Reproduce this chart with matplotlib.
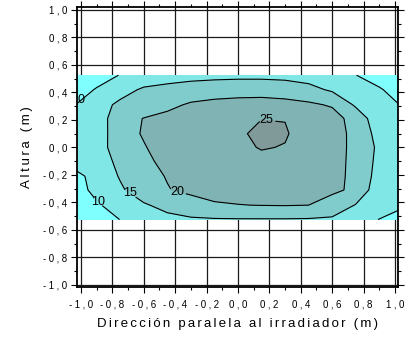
import numpy as np
import matplotlib
matplotlib.use('Agg')
import matplotlib.pyplot as plt
from matplotlib.ticker import FixedLocator, MultipleLocator, FuncFormatter

plt.rcParams['font.family'] = ['Liberation Sans', 'DejaVu Sans']

# posiciones de la malla (m)
x_pos = [-1.05, -0.9, -0.75, -0.6, -0.45, -0.3, -0.15, 0.0, 0.15, 0.3, 0.45, 0.6, 0.75, 0.9, 1.05]
y_pos = [-0.525, -0.42, -0.31, -0.21, -0.1, 0.0, 0.1, 0.21, 0.31, 0.42, 0.525]

# valores, una fila por altura (de abajo hacia arriba)
valores = [
    [6.5, 8.3, 10.05, 11.8, 13.2, 14.2, 14.6, 14.7, 14.7, 14.7, 14.6, 14.0, 12.0, 9.9, 9.3],
    [7.8, 9.6, 11.5, 14.3, 17.0, 19.0, 19.7, 19.9, 20.1, 20.2, 20.0, 19.3, 14.7, 12.2, 10.2],
    [8.3, 11.0, 14.1, 18.5, 19.9, 20.5, 21.0, 21.6, 22.0, 21.6, 20.9, 20.3, 19.7, 11.2, 10.9],
    [9.5, 10.5, 15.5, 19.35, 20.1, 20.9, 21.7, 22.5, 23.3, 22.5, 21.5, 20.5, 19.6, 12.7, 11.3],
    [10.5, 12.0, 16.5, 19.6, 20.5, 21.4, 22.4, 23.3, 24.2, 23.2, 21.9, 20.7, 19.5, 13.4, 11.6],
    [11.2, 12.6, 17.8, 19.85, 21.0, 22.1, 23.2, 24.3, 25.2, 24.85, 22.9, 21.1, 19.3, 13.9, 11.7],
    [11.4, 11.5, 19.0, 20.2, 21.3, 22.4, 23.5, 24.6, 25.6, 25.3, 23.5, 21.4, 19.1, 13.0, 11.5],
    [10.8, 11.9, 18.6, 20.1, 21.1, 22.2, 23.2, 24.2, 24.95, 24.9, 23.1, 22.0, 18.0, 12.0, 10.8],
    [9.7, 12.6, 16.2, 17.9, 19.0, 20.5, 21.2, 21.6, 21.8, 21.5, 20.8, 19.5, 14.3, 11.8, 9.7],
    [8.6, 10.2, 12.8, 15.8, 16.8, 17.5, 17.9, 18.1, 18.1, 17.6, 16.4, 14.3, 12.3, 10.3, 8.5],
    [7.5, 8.8, 10.1, 11.2, 12.3, 13.2, 13.6, 13.8, 13.8, 13.6, 13.0, 11.3, 10.05, 8.6, 7.5],
]

niveles = [10, 15, 20, 25]
colores = ['#80ffff', '#80e6e6', '#80cccc', '#80b3b3', '#809a9a']
marcas = [-1.0, -0.8, -0.6, -0.4, -0.2, 0.0, 0.2, 0.4, 0.6, 0.8, 1.0]

fig = plt.figure(figsize=(4.1, 3.38), dpi=100)
ax = fig.add_axes([0.188, 0.151, 0.783, 0.828])

X, Y = np.meshgrid(x_pos, y_pos)
Z = np.array(valores)

ax.contourf(X, Y, Z, levels=[0] + niveles + [40], colors=colores, zorder=2)
cs = ax.contour(X, Y, Z, levels=niveles, colors='black', linewidths=0.8, zorder=3)

# etiquetas de las curvas
etiq = ax.clabel(cs, fmt='%d', fontsize=9, inline=True, inline_spacing=2,
                 manual=[(-0.91, -0.40), (-0.71, -0.345), (-0.40, -0.34), (0.19, 0.22)])
for t in etiq:
    t.set_rotation(0)
ax.text(-0.975, 0.345, '10', ha='right', va='center', fontsize=9, clip_on=True, zorder=4)

ax.set_xlim(-1.025, 1.02)
ax.set_ylim(-1.015, 1.02)

def fmt(v, pos):
    s = f'{v:.1f}'.replace('.', ',')
    if s == '-0,0':
        s = '0,0'
    return '\u2005'.join(s)

for eje in (ax.xaxis, ax.yaxis):
    eje.set_major_locator(FixedLocator(marcas))
    eje.set_minor_locator(MultipleLocator(0.1))
    eje.set_major_formatter(FuncFormatter(fmt))

ax.tick_params(which='both', direction='out', top=True, right=True, labelsize=7, color='black')
ax.tick_params(which='major', length=4, width=0.8, pad=3)
ax.tick_params(axis='x', which='major', pad=5)
ax.tick_params(which='minor', length=2.5, width=0.8)

ax.set_axisbelow(True)
ax.grid(True, which='major', color='#1a1a1a', linewidth=0.9)
for sp in ax.spines.values():
    sp.set_linewidth(1.3)

ax.set_xlabel('\u2006'.join('Dirección paralela al irradiador (m)'), fontsize=9.5, labelpad=6)
ax.set_ylabel('\u2009'.join('Altura (m)'), fontsize=9.5, labelpad=7)

fig.savefig('out.png', dpi=100)
